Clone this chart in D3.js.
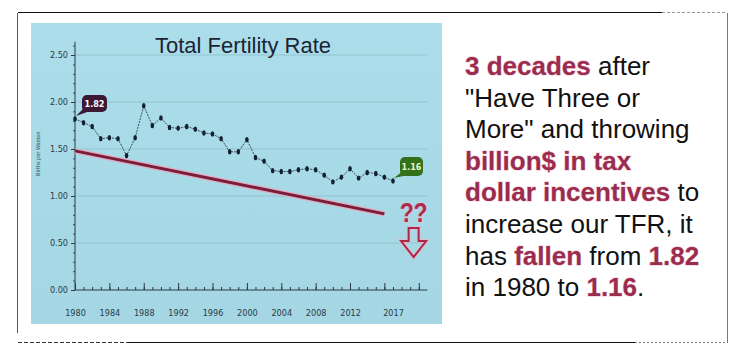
<!DOCTYPE html>
<html>
<head>
<meta charset="utf-8">
<script src="https://cdn.jsdelivr.net/npm/d3@7"></script>
<style>
  body { margin: 0; background: #fff; }
  svg { display: block; }
</style>
</head>
<body>
<div id="chart"></div>
<script>
// data
var years = d3.range(1980, 2018);
var tfr = [1.82, 1.78, 1.74, 1.61, 1.62, 1.61, 1.43, 1.62, 1.96, 1.75,
           1.83, 1.73, 1.72, 1.74, 1.71, 1.67, 1.66, 1.61, 1.47, 1.47,
           1.60, 1.41, 1.37, 1.27, 1.26, 1.26, 1.28, 1.29, 1.28, 1.22,
           1.15, 1.20, 1.29, 1.19, 1.25, 1.24, 1.20, 1.16];
var trendYears = [1980, 2016];
var trendValues = [1.48, 0.81];
var yTicks = [0, 0.5, 1.0, 1.5, 2.0, 2.5];
var xLabels = [1980, 1984, 1988, 1992, 1996, 2000, 2004, 2008, 2012, 2017];

var width = 744, height = 353;
var svg = d3.select("#chart").append("svg")
  .attr("width", width)
  .attr("height", height);

// outer frame
var frame = svg.append("g").attr("fill", "none");
frame.append("line").attr("x1", 18).attr("y1", 12.5).attr("x2", 662).attr("y2", 12.5)
  .attr("stroke", "#111");
frame.append("line").attr("x1", 662).attr("y1", 12.5).attr("x2", 727).attr("y2", 12.5)
  .attr("stroke", "#999").attr("stroke-dasharray", "3,2");
frame.append("line").attr("x1", 727.5).attr("y1", 13).attr("x2", 727.5).attr("y2", 343)
  .attr("stroke", "#777");
frame.append("line").attr("x1", 17.5).attr("y1", 13).attr("x2", 17.5).attr("y2", 333)
  .attr("stroke", "#555");
frame.append("line").attr("x1", 18).attr("y1", 342.5).attr("x2", 128).attr("y2", 342.5)
  .attr("stroke", "#333").attr("stroke-dasharray", "4,2");
frame.append("line").attr("x1", 128).attr("y1", 342.5).attr("x2", 635).attr("y2", 342.5)
  .attr("stroke", "#111");
frame.append("line").attr("x1", 635).attr("y1", 342.5).attr("x2", 727).attr("y2", 342.5)
  .attr("stroke", "#777").attr("stroke-dasharray", "2,2");

// blue chart panel
var grad = svg.append("defs").append("linearGradient")
  .attr("id", "panel").attr("x1", 0).attr("y1", 0).attr("x2", 0).attr("y2", 1);
grad.append("stop").attr("offset", "0%").attr("stop-color", "#abdeea");
grad.append("stop").attr("offset", "100%").attr("stop-color", "#a4d6e4");
svg.append("rect")
  .attr("x", 31).attr("y", 23).attr("width", 411).attr("height", 301)
  .attr("fill", "url(#panel)");

var x = d3.scaleLinear().domain([1980, 2017]).range([75, 393]);
var y = d3.scaleLinear().domain([0, 2.5]).range([290, 55]);
var xEnd = x(2021);

// gridlines
svg.append("g")
  .selectAll("line")
  .data(yTicks.slice(1))
  .join("line")
  .attr("x1", x(1980)).attr("x2", xEnd)
  .attr("y1", d => y(d)).attr("y2", d => y(d))
  .attr("stroke", "#93c3cf").attr("stroke-width", 1.2);

svg.append("text")
  .attr("x", 243).attr("y", 53)
  .attr("text-anchor", "middle")
  .attr("font-family", "Liberation Sans, Arial, sans-serif")
  .attr("font-size", 22)
  .attr("fill", "#1c2433")
  .text("Total Fertility Rate");

// y axis
var yMinor = svg.append("g")
  .attr("transform", "translate(" + x(1980) + ",0)")
  .call(d3.axisLeft(y).tickValues(d3.range(0, 2.61, 0.1)).tickSize(2).tickFormat(() => ""));
yMinor.select(".domain").remove();
yMinor.selectAll("line").attr("stroke", "#3d4d5a");

var yAxis = svg.append("g")
  .attr("transform", "translate(" + x(1980) + ",0)")
  .call(d3.axisLeft(y).tickValues(yTicks).tickSize(4).tickPadding(3).tickFormat(d3.format(".2f")));
yAxis.select(".domain").remove();
yAxis.selectAll("line").attr("stroke", "#2c3a46");
yAxis.selectAll("text")
  .attr("font-family", "DejaVu Sans Condensed, Liberation Sans Narrow, sans-serif")
  .attr("font-size", 9)
  .attr("fill", "#2c3a46");
svg.append("line")
  .attr("x1", x(1980)).attr("x2", x(1980))
  .attr("y1", y(0)).attr("y2", y(2.64))
  .attr("stroke", "#2c3a46");

svg.append("text")
  .attr("transform", "translate(40," + y(1.45) + ") rotate(-90)")
  .attr("text-anchor", "middle")
  .attr("font-family", "DejaVu Sans Condensed, sans-serif")
  .attr("font-size", 5.5)
  .attr("fill", "#3a4d5c")
  .text("Births per Woman");

// x axis
var xMinor = svg.append("g")
  .attr("transform", "translate(0," + y(0) + ")")
  .call(d3.axisTop(x).tickValues(d3.range(1980, 2021)).tickSize(3).tickFormat(() => ""));
xMinor.select(".domain").remove();
xMinor.selectAll("line").attr("stroke", "#2c3a46");
var xMajor = svg.append("g")
  .attr("transform", "translate(0," + y(0) + ")")
  .call(d3.axisTop(x).tickValues(d3.range(1980, 2021, 4)).tickSize(7).tickFormat(() => ""));
xMajor.select(".domain").remove();
xMajor.selectAll("line").attr("stroke", "#2c3a46");
svg.append("line")
  .attr("x1", x(1980)).attr("x2", xEnd)
  .attr("y1", y(0)).attr("y2", y(0))
  .attr("stroke", "#2c3a46");

var xAxis = svg.append("g")
  .attr("transform", "translate(0," + y(0) + ")")
  .call(d3.axisBottom(x).tickValues(xLabels).tickSize(0).tickPadding(20).tickFormat(d3.format("d")));
xAxis.select(".domain").remove();
xAxis.selectAll("text")
  .attr("font-family", "DejaVu Sans Condensed, Liberation Sans Narrow, sans-serif")
  .attr("font-size", 9)
  .attr("fill", "#2c3a46");

// trend line
var trend = trendYears.map((d, i) => [x(d), y(trendValues[i])]);
svg.append("path")
  .attr("d", d3.line()(trend))
  .attr("stroke", "#e6aabd").attr("stroke-width", 5.5).attr("fill", "none");
svg.append("path")
  .attr("d", d3.line()(trend))
  .attr("stroke", "#761e3c").attr("stroke-width", 3).attr("fill", "none");

// TFR series
var pts = years.map((d, i) => [x(d), y(tfr[i])]);
svg.append("path")
  .attr("d", d3.line()(pts))
  .attr("fill", "none")
  .attr("stroke", "#1d2b3a")
  .attr("stroke-width", 0.8)
  .attr("stroke-dasharray", "2,1");
svg.append("g")
  .selectAll("ellipse")
  .data(pts)
  .join("ellipse")
  .attr("cx", d => d[0]).attr("cy", d => d[1])
  .attr("rx", 1.8).attr("ry", 2.7)
  .attr("fill", "#14202e");

// callouts
function callout(px, py, w, h, fill, label, txtFill) {
  var bx = px + 7, by = py - 24;
  var g = svg.append("g");
  g.append("path")
    .attr("d", "M" + (px + 1) + "," + (py - 3) + " L" + (bx + 3) + "," + (by + h - 5) +
               " L" + (bx + 8) + "," + (by + h - 1) + " Z")
    .attr("fill", fill);
  g.append("rect")
    .attr("x", bx).attr("y", by).attr("width", w).attr("height", h)
    .attr("rx", 5).attr("fill", fill);
  g.append("text")
    .attr("x", bx + w / 2).attr("y", by + h / 2 + 3.5)
    .attr("text-anchor", "middle")
    .attr("font-family", "DejaVu Sans Condensed, sans-serif")
    .attr("font-weight", "bold")
    .attr("font-size", 9)
    .attr("fill", txtFill)
    .text(label);
}
callout(x(1980), y(tfr[0]), 25, 17, "#3b1833", d3.format(".2f")(tfr[0]), "#fff");
callout(x(2017), y(tfr[tfr.length - 1]), 23, 19, "#34701a", d3.format(".2f")(tfr[tfr.length - 1]), "#e8f5c8");

// question marks and arrow
var qx = x(2019.4);
svg.append("text")
  .attr("x", qx).attr("y", y(0.72))
  .attr("text-anchor", "middle")
  .attr("font-family", "Liberation Sans, Arial, sans-serif")
  .attr("font-weight", "bold")
  .attr("font-size", 28)
  .attr("textLength", 28)
  .attr("lengthAdjust", "spacingAndGlyphs")
  .attr("fill", "#a82d50")
  .attr("stroke", "#f2bccb").attr("stroke-width", 1.2)
  .attr("paint-order", "stroke")
  .text("??");

var ay0 = y(0.66), ay1 = y(0.52), ay2 = y(0.35);
var arrow = [[qx - 5, ay0], [qx + 5, ay0], [qx + 5, ay1], [qx + 12.5, ay1],
             [qx, ay2], [qx - 12.5, ay1], [qx - 5, ay1]];
svg.append("path")
  .attr("d", d3.line()(arrow) + "Z")
  .attr("fill", "none")
  .attr("stroke", "#f0b5c5").attr("stroke-width", 3.5);
svg.append("path")
  .attr("d", d3.line()(arrow) + "Z")
  .attr("fill", "none")
  .attr("stroke", "#a8284c").attr("stroke-width", 2);

// right-hand text
var lines = [
  [["3 decades", true], [" after", false]],
  [["\"Have Three or", false]],
  [["More\" and throwing", false]],
  [["billion$ in tax", true]],
  [["dollar incentives", true], [" to", false]],
  [["increase our TFR, it", false]],
  [["has ", false], ["fallen", true], [" from ", false], ["1.82", true]],
  [["in 1980 to ", false], ["1.16", true], [".", false]]
];
var txt = svg.append("text")
  .attr("font-family", "Liberation Sans, Arial, sans-serif")
  .attr("font-size", 26)
  .attr("fill", "#111");
lines.forEach(function (parts, i) {
  parts.forEach(function (p, j) {
    var t = txt.append("tspan").text(p[0]);
    if (j === 0) t.attr("x", 465).attr("y", 75 + i * 31.6);
    if (p[1]) {
      t.attr("font-weight", "bold")
        .attr("fill", "#9a2c4e")
        .attr("stroke", "#f7d6df").attr("stroke-width", 1.3)
        .attr("paint-order", "stroke");
    }
  });
});
</script>
</body>
</html>
